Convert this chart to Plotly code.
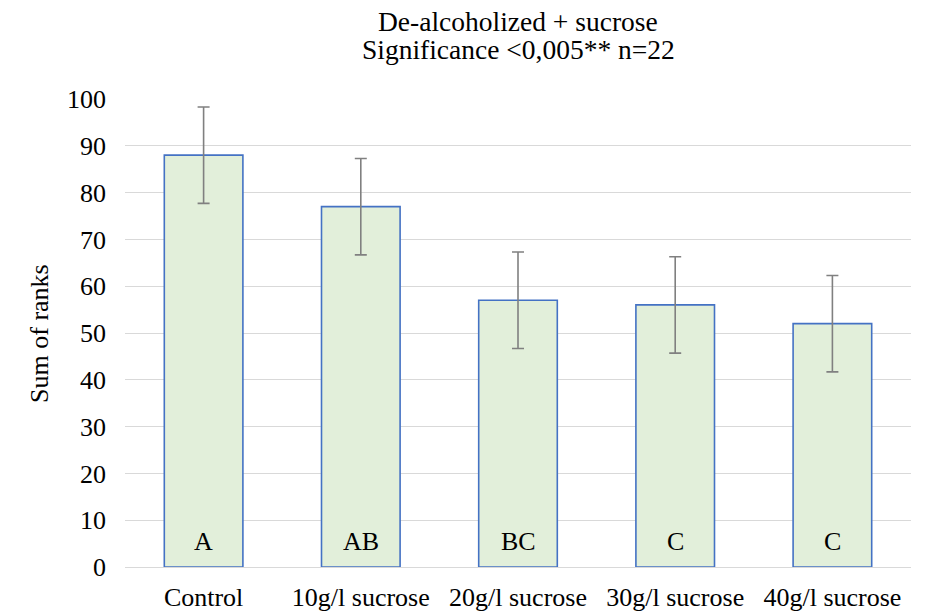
import plotly.graph_objects as go

categories = ["Control", "10g/l sucrose", "20g/l sucrose", "30g/l sucrose", "40g/l sucrose"]
rank_sums = [88, 77, 57, 56, 52]
errors = [10.3, 10.3, 10.3, 10.3, 10.3]
group_letters = ["A", "AB", "BC", "C", "C"]
letter_level = 5.5
y_ticks = [0, 10, 20, 30, 40, 50, 60, 70, 80, 90, 100]
title_lines = ["De-alcoholized + sucrose", "Significance <0,005** n=22"]
y_title = "Sum of ranks"

FONT = "Liberation Serif, Times New Roman, serif"
TICK_SIZE = 26
TITLE_SIZE = 27.5

fig = go.Figure()
fig.add_trace(go.Bar(
    x=categories,
    y=rank_sums,
    width=0.5,
    marker=dict(color="#E2EFDA", line=dict(color="#4472C4", width=1.6)),
    error_y=dict(type="data", array=errors, visible=True, color="#808080", thickness=1.6, width=6),
    cliponaxis=False,
))

for cat, letter in zip(categories, group_letters):
    fig.add_annotation(
        x=cat, y=letter_level, xref="x", yref="y",
        text=letter, showarrow=False, xanchor="center", yanchor="middle",
        font=dict(family=FONT, size=TICK_SIZE, color="black"),
    )

# title lines (positioned relative to plot area)
for line, ypos in zip(title_lines, [1.166, 1.105]):
    fig.add_annotation(
        x=0.5, y=ypos, xref="paper", yref="paper",
        text=line, showarrow=False, xanchor="center", yanchor="middle",
        font=dict(family=FONT, size=TITLE_SIZE, color="black"),
    )

fig.add_annotation(
    x=-0.1095, y=0.5, xref="paper", yref="paper",
    text=y_title, showarrow=False, textangle=-90,
    xanchor="center", yanchor="middle",
    font=dict(family=FONT, size=TICK_SIZE, color="black"),
)

# page body has an 8px margin, so the figure is drawn 8px smaller and offset
fig.update_layout(
    width=917, height=603,
    paper_bgcolor="white", plot_bgcolor="white",
    margin=dict(l=117, r=14, t=91, b=44, autoexpand=False),
    font=dict(family=FONT, size=TICK_SIZE, color="black"),
    showlegend=False,
)
fig.update_xaxes(
    showgrid=False, showline=False, ticks="", automargin=False,
    ticklabelstandoff=12,
    tickfont=dict(family=FONT, size=TICK_SIZE, color="black"),
)
fig.update_yaxes(
    range=[0, 100], tickvals=y_ticks, automargin=False,
    showgrid=True, gridcolor="#D9D9D9", gridwidth=1.3,
    zeroline=True, zerolinecolor="#D9D9D9", zerolinewidth=1.3,
    showline=False, ticks="", ticklabelstandoff=18,
    tickfont=dict(family=FONT, size=TICK_SIZE, color="black"),
)

fig.write_html("out.html")
